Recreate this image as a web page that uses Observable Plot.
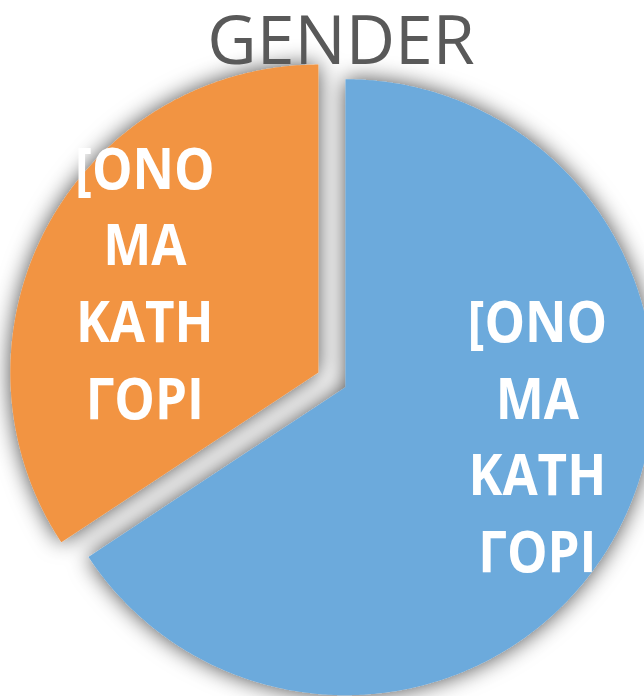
<!DOCTYPE html>
<html>
<head>
<meta charset="utf-8">
<script src="https://cdn.jsdelivr.net/npm/d3@7"></script>
<script src="https://cdn.jsdelivr.net/npm/@observablehq/plot@0.6"></script>
<style>
  html, body { margin: 0; padding: 0; background: #fff; overflow: hidden; }
  #wrap { position: relative; width: 644px; height: 696px; overflow: hidden; }
  #title {
    position: absolute; left: 0; top: 2px; width: 644px; padding-left: 38px; box-sizing: border-box;
    text-align: center; font-family: "Open Sans", "Noto Sans", sans-serif; font-size: 68px; line-height: 1.05;
    color: #595959; z-index: 2; margin: 0; font-weight: normal;
  }
  #chart { position: absolute; left: 0; top: 0; }
</style>
</head>
<body>
<div id="wrap">
  <div id="title"></div>
  <div id="chart"></div>
</div>
<script>
// ---- data ----
const titleText = "GENDER";
const categories = ["Κατηγορία 1", "Κατηγορία 2"];
const values = [23, 12];
const labels = ["[ΟΝΟΜΑ ΚΑΤΗΓΟΡΙ", "[ΟΝΟΜΑ ΚΑΤΗΓΟΡΙ"];

// ---- styling / layout options ----
const palette = ["#6CAADC", "#F29442"];
const explode = [0, 0.1];          // fraction of radius
const W = 644, H = 696;
const R = 308;                     // pie radius in px
const cx = 345, cy = 386.7;        // pie centre in px
const fontSize = 58, lineHeight = 1.32, chunk = 4, squeeze = 0.88;

document.getElementById("title").textContent = titleText;

const rows = categories.map((c, i) => ({category: c, value: values[i], label: labels[i]}));
const arcs = d3.pie().sort(null).value(d => d.value)(rows);

// slice outlines
const pts = [];
arcs.forEach((a, i) => {
  const m = (a.startAngle + a.endAngle) / 2;
  const ox = explode[i] * Math.sin(m), oy = explode[i] * Math.cos(m);
  const cat = a.data.category;
  pts.push({category: cat, x: ox, y: oy});
  const n = Math.ceil((a.endAngle - a.startAngle) / (Math.PI / 360));
  for (let k = 0; k <= n; ++k) {
    const t = a.startAngle + (a.endAngle - a.startAngle) * k / n;
    pts.push({category: cat, x: ox + Math.sin(t), y: oy + Math.cos(t)});
  }
});

// label text wrapping (break words into short chunks, like the source)
function wrap(s) {
  const out = [];
  s.split(" ").forEach(w => { for (let i = 0; i < w.length; i += chunk) out.push(w.slice(i, i + chunk)); });
  return out;
}

// label positions: along mid-angle, rotated toward horizontal until block fits
const labelPts = arcs.map((a, i) => {
  const lines = wrap(a.data.label);
  const halfH = ((lines.length - 1) * lineHeight * fontSize + 0.714 * fontSize) / 2 / R;
  const halfW = 68.5 / R;
  let m = (a.startAngle + a.endAngle) / 2;
  const target = Math.sin(m) >= 0 ? Math.PI / 2 : 3 * Math.PI / 2;
  const rr = 0.64;
  for (let it = 0; it < 90; ++it) {
    const x = rr * Math.sin(m), y = rr * Math.cos(m);
    const yb = y - halfH;
    if (yb >= 0 || Math.hypot(Math.abs(x) + halfW, yb) <= 1.033) break;
    m += (target - m) > 0 ? Math.PI / 180 : -Math.PI / 180;
  }
  const mm = (a.startAngle + a.endAngle) / 2;
  const ox = explode[i] * Math.sin(mm), oy = explode[i] * Math.cos(mm);
  return {category: a.data.category, x: ox + rr * Math.sin(m), y: oy + rr * Math.cos(m), text: lines.join("\n")};
});

const chart = Plot.plot({
  width: W, height: H,
  marginTop: 0, marginRight: 0, marginBottom: 0, marginLeft: 0,
  x: {domain: [-cx / R, (W - cx) / R], axis: null},
  y: {domain: [-(H - cy) / R, cy / R], axis: null},
  color: {domain: categories, range: palette},
  style: {background: "transparent", overflow: "hidden"},
  marks: [
    Plot.line(pts, {x: "x", y: "y", z: "category", fill: "category", stroke: null, curve: "linear-closed"}),
    Plot.text(labelPts, {
      x: "x", y: "y", text: "text", fill: "white",
      fontSize, lineHeight, fontWeight: "bold",
      fontFamily: "'Open Sans', 'Noto Sans', sans-serif"
    })
  ]
});
document.getElementById("chart").appendChild(chart);

// narrow the label glyphs a little (the source uses a condensed face)
chart.querySelectorAll('g[aria-label="text"] text').forEach(t => {
  const tr = t.getAttribute("transform") || "";
  t.setAttribute("transform", tr + ` scale(${squeeze},1)`);
});

// soft outer shadow like the source
const ns = "http://www.w3.org/2000/svg";
const defs = document.createElementNS(ns, "defs");
const filt = document.createElementNS(ns, "filter");
filt.setAttribute("id", "pieShadow");
filt.setAttribute("x", "-20%"); filt.setAttribute("y", "-20%");
filt.setAttribute("width", "140%"); filt.setAttribute("height", "140%");
const ds = document.createElementNS(ns, "feDropShadow");
ds.setAttribute("dx", "0"); ds.setAttribute("dy", "0");
ds.setAttribute("stdDeviation", "11");
ds.setAttribute("flood-color", "#000");
ds.setAttribute("flood-opacity", "0.7");
filt.appendChild(ds); defs.appendChild(filt);
chart.insertBefore(defs, chart.firstChild);
const lineG = chart.querySelector('g[aria-label="line"]');
if (lineG) lineG.setAttribute("filter", "url(#pieShadow)");
</script>
</body>
</html>
